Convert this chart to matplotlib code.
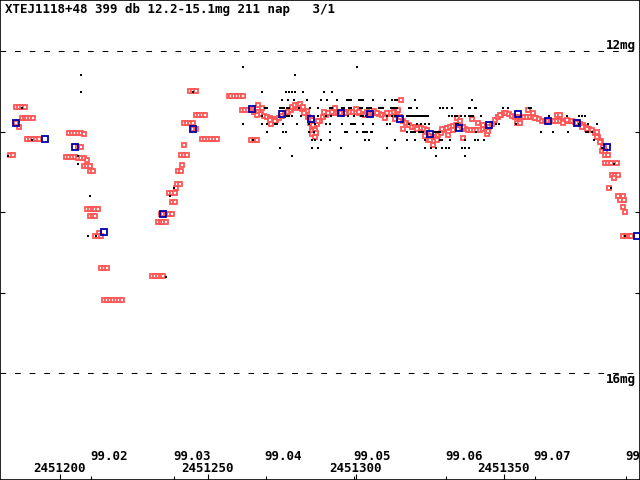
import numpy as np
import matplotlib
matplotlib.use('Agg')
import matplotlib.pyplot as plt
from matplotlib.transforms import blended_transform_factory

title = 'XTEJ1118+48 399 db 12.2-15.1mg 211 nap   3/1'
jd0 = 2451000

# red points: separate runs / scattered measurements (JD - 2451000, mag)
red_early_d = [183, 184, 185, 186, 187, 188, 185.1, 186.1,
               187, 188, 189, 190, 191, 189, 190, 191, 192, 193,
               202, 203, 204, 205, 203, 204, 205, 206, 207, 208.1,
               206, 207, 206, 207, 208, 209, 208, 209, 210, 210, 211,
               209, 210, 211, 212, 213, 210, 211, 212,
               213.2, 212, 213, 214, 214, 215, 216,
               215, 216, 217, 218, 219, 220, 221]
red_early_m = [13.29, 13.29, 12.69, 12.69, 12.69, 12.69, 12.89, 12.94,
               12.83, 12.83, 12.83, 12.83, 12.83, 13.09, 13.09, 13.09, 13.09, 13.09,
               13.31, 13.31, 13.31, 13.31, 13.02, 13.02, 13.02, 13.02, 13.02, 13.03,
               13.19, 13.19, 13.33, 13.33, 13.33, 13.35, 13.42, 13.42, 13.42, 13.49, 13.49,
               13.96, 13.96, 13.96, 13.96, 13.96, 14.05, 14.05, 14.05,
               14.26, 14.29, 14.29, 14.29, 14.69, 14.69, 14.69,
               15.09, 15.09, 15.09, 15.09, 15.09, 15.09, 15.09]

red_mid_d = [231, 232, 233, 234, 235, 233, 234, 235, 236,
             234, 235, 236, 237, 238, 237, 238, 239, 238, 239,
             239.2, 239.5, 240.5, 240, 241, 241.3, 241, 242, 243, 241.9,
             242, 243, 244, 245, 244, 245, 246, 245, 246,
             246, 247, 248, 249, 248, 249, 250, 251, 252, 253,
             257, 258, 259, 260, 261, 262, 261.5, 262.5, 263.5,
             264.6, 265.6, 266.6]
red_mid_m = [14.79, 14.79, 14.79, 14.79, 14.79, 14.12, 14.12, 14.12, 14.12,
             14.02, 14.02, 14.02, 14.02, 14.02, 13.76, 13.76, 13.76, 13.87, 13.87,
             13.70, 13.65, 13.65, 13.49, 13.49, 13.41, 13.29, 13.29, 13.29, 13.17,
             12.89, 12.89, 12.89, 12.89, 12.49, 12.49, 12.49, 12.97, 12.97,
             12.79, 12.79, 12.79, 12.79, 13.09, 13.09, 13.09, 13.09, 13.09, 13.09,
             12.55, 12.55, 12.55, 12.55, 12.55, 12.55, 12.73, 12.73, 12.73,
             13.10, 13.10, 13.10]

# dense daily red curve
band_d = list(range(265, 385))
band_m = [12.73, 12.75, 12.76, 12.78, 12.80, 12.82, 12.83, 12.84, 12.85, 12.83,
          12.80, 12.77, 12.75, 12.73, 12.71, 12.69, 12.70, 12.72, 12.76, 12.82,
          12.86, 12.90, 12.90, 12.86, 12.82, 12.79, 12.77, 12.77, 12.77, 12.77,
          12.77, 12.76, 12.75, 12.75, 12.75, 12.76, 12.77, 12.78, 12.79, 12.79,
          12.78, 12.77, 12.77, 12.78, 12.79, 12.79, 12.78, 12.77, 12.76, 12.76,
          12.82, 12.86, 12.89, 12.92, 12.94, 12.94, 12.94, 12.95, 12.96, 12.98,
          13.05, 13.06, 13.06, 13.04, 13.02, 12.98, 12.95, 12.94, 12.93, 12.92,
          12.92, 12.94, 12.96, 12.98, 12.98, 12.98, 12.98, 12.98, 12.97, 12.95,
          12.94, 12.90, 12.85, 12.82, 12.79, 12.77, 12.77, 12.78, 12.80, 12.81,
          12.82, 12.82, 12.82, 12.82, 12.82, 12.82, 12.83, 12.84, 12.86, 12.87,
          12.87, 12.87, 12.87, 12.87, 12.87, 12.87, 12.87, 12.87, 12.87, 12.88,
          12.89, 12.90, 12.92, 12.94, 12.96, 12.98, 13.02, 13.07, 13.12, 13.20]

red_late_d = [265.7, 266.7, 267.1, 268.2, 271.0, 271.3, 272.7,
              278.4, 279.5, 280.6, 281.2, 282.3, 283.4, 282.6,
              284.5, 285.3, 285.3, 286.2, 285.3, 286.2, 287.4, 285.1, 285.7, 286.6,
              289.4, 290.7, 291.9, 293.0, 296.4, 300.1, 301.2, 303.7, 306.2, 307.1,
              309.9, 310.5, 313.3, 314.4, 315.4, 316.1, 320.6, 323.4, 324.6,
              326.3, 327.4, 325.1, 329.1, 331.3, 334.2, 335.3, 333.0, 336.4, 336.4,
              339.2, 341.5, 343.2, 344.3, 344.8, 348.8, 354.5, 355.6, 358.4, 360.1,
              360.6, 368.0, 369.1, 370.2, 371.4, 376.4, 378.1, 381.5, 381.5, 382.6, 383.5,
              383.3, 384.3, 384.4, 385.4, 384.4, 385.4, 386.4, 388.5,
              386.6, 387.6, 388.6, 387.5, 385.6, 388.8, 390.5, 389.4, 390.8,
              390.5, 391.2, 390.5, 391.5, 392.5, 393.2]
red_late_m = [12.75, 12.79, 12.67, 12.70, 12.85, 12.90, 12.87,
              12.69, 12.67, 12.67, 12.65, 12.69, 12.74, 12.77,
              12.89, 12.94, 12.99, 12.98, 13.03, 13.06, 12.87, 12.85, 12.92, 13.02,
              12.75, 12.77, 12.76, 12.71, 12.77, 12.72, 12.76, 12.75, 12.74, 12.77,
              12.83, 12.77, 12.84, 12.73, 12.60, 12.97, 12.96, 13.05, 13.10,
              13.17, 13.10, 13.10, 12.96, 13.04, 12.83, 12.87, 12.98, 13.08, 12.94,
              12.84, 12.89, 12.92, 13.03, 12.99, 12.79, 12.89, 12.89, 12.73, 12.77,
              12.83, 12.79, 12.79, 12.89, 12.85, 12.94, 12.96, 13.00, 13.06, 13.13, 13.19,
              13.24, 13.24, 13.29, 13.29, 13.39, 13.39, 13.39, 13.39,
              13.54, 13.54, 13.54, 13.57, 13.70, 13.80, 13.80, 13.85, 13.85,
              13.93, 14.00, 14.30, 14.30, 14.30, 14.30]

# black visual estimates, grouped by magnitude (0.1 mag steps)
black = {
    12.2: [261.9, 300.4],
    12.3: [207.1, 279.5],
    12.5: [207.1, 245.0, 268.3, 276.4, 277.5, 278.5, 279.5, 282.2, 289.3, 292.0],
    12.6: [275.1, 277.1, 279.1, 283.5, 288.3, 290.3, 293.8, 297.1, 297.8, 298.4,
           301.2, 301.9, 302.6, 306.0, 310.0, 312.3, 313.4, 314.1, 320.1, 339.3],
    12.7: [187.1, 269.3, 270.0, 274.4, 275.1, 275.8, 276.8, 277.5, 280.8, 284.5,
           287.3, 291.3, 292.0, 295.4, 296.1, 297.6, 298.3, 301.5, 302.1, 303.7,
           304.4, 305.1, 308.0, 308.7, 309.3, 311.8, 312.5, 313.4, 314.1, 317.9,
           318.6, 320.6, 328.4, 329.5, 330.9, 332.5, 338.2, 338.7, 340.3, 340.7,
           349.8, 351.4, 358.6, 359.3],
    12.8: [268.3, 276.8, 277.5, 278.5, 281.5, 284.2, 287.3, 290.0, 291.7, 295.6,
           297.4, 299.4, 301.7, 302.6, 303.5, 310.5, 312.3, 313.2, 313.9, 317.3,
           317.9, 318.6, 319.3, 320.0, 320.6, 321.3, 322.0, 322.6, 323.4, 324.0,
           324.6, 331.7, 332.6, 333.7, 334.4, 335.7, 336.9, 338.2, 338.9, 339.8,
           342.5, 365.4, 371.5, 375.5, 376.4, 377.6],
    12.9: [261.9, 268.3, 270.0, 272.7, 273.4, 275.4, 280.2, 284.2, 286.2, 290.0,
           291.3, 295.4, 298.3, 299.0, 299.7, 302.4, 306.0, 310.7, 311.6, 317.9,
           320.8, 322.2, 323.4, 324.7, 333.8, 334.5, 347.6, 348.5, 354.3, 375.5,
           378.5, 381.6],
    13.0: [270.0, 275.4, 276.4, 284.2, 285.9, 291.3, 296.3, 297.2, 300.3, 302.4,
           303.0, 303.7, 305.1, 305.5, 317.3, 318.6, 319.3, 320.0, 321.3, 322.2,
           322.9, 326.6, 327.3, 328.0, 328.6, 340.6, 362.7, 366.7, 371.7, 377.8,
           378.7, 380.0],
    13.1: [190.5, 265.3, 285.2, 286.2, 288.3, 291.3, 303.3, 304.4, 313.2, 317.3,
           320.2, 323.4, 328.4, 329.3, 332.0, 337.0, 340.4, 341.5, 343.3, 380.5],
    13.2: [274.4, 285.2, 287.3, 295.1, 310.5, 323.4, 325.5, 327.1, 329.3, 330.6,
           331.6, 335.9, 337.0, 338.3, 383.2],
    13.3: [182.4, 206.1, 278.5, 327.1, 337.0],
    13.4: [206.1, 387.4],
    13.7: [238.6, 386.4],
    13.8: [210.1, 237.2],
    14.3: [209.5, 212.2, 391.0],
    14.8: [235.8],
}

# blue 10-day means
mean_d = [185, 195, 205, 215, 235, 245, 265, 275, 285, 295, 305, 315, 325, 335,
          345, 355, 365, 375, 385, 395]
mean_m = [12.89, 13.09, 13.19, 14.24, 14.02, 12.97, 12.72, 12.78, 12.84, 12.77,
          12.78, 12.84, 13.03, 12.95, 12.92, 12.78, 12.87, 12.89, 13.19, 14.29]

jd_ticks = [2451200, 2451250, 2451300, 2451350]
month_jd = [2451210.5, 2451238.5, 2451269.5, 2451299.5, 2451330.5, 2451360.5, 2451391.5]
month_labels = ['99.02', '99.03', '99.04', '99.05', '99.06', '99.07', '99.08']

red = '#ff5555'
blue = '#0000aa'
font = dict(family='DejaVu Sans Mono', weight='bold', size=9.0)

fig = plt.figure(figsize=(6.4, 4.8), dpi=100)
ax = fig.add_axes([0, 0, 1, 1])
ax.set_xlim(2451179.71, 2451396.15)
ax.set_ylim(17.3255, 11.3627)

for d, m in [(red_early_d, red_early_m), (red_mid_d, red_mid_m),
             (band_d, band_m), (red_late_d, red_late_m)]:
    ax.plot(jd0 + np.array(d), m, 's', ms=2.5, mfc='white', mec=red, mew=1.3,
            zorder=2)

bx = np.concatenate([np.array(v) for v in black.values()])
by = np.concatenate([[k] * len(v) for k, v in black.items()])
ax.plot(jd0 + bx, by, 's', ms=1.8, color='black', mew=0, zorder=3)

ax.plot(jd0 + np.array(mean_d), mean_m, 's', ms=4.2, mfc='none', mec=blue,
        mew=1.3, zorder=4)

for lev in (12, 16):
    ax.axhline(lev, color='black', lw=0.75, ls=(0, (5.5, 8.5)), zorder=1)

ax.set_yticks([13, 14, 15])
ax.tick_params(axis='y', direction='in', left=True, right=True, length=3.6,
               width=0.8, labelleft=False, labelright=False)
ax.set_xticks(jd_ticks)
ax.set_xticks(month_jd, minor=True)
ax.tick_params(axis='x', which='major', direction='in', length=4.5, width=0.8,
               labelbottom=False)
ax.tick_params(axis='x', which='minor', direction='in', length=3, width=0.8)
for s in ax.spines.values():
    s.set_linewidth(1.2)

tr = blended_transform_factory(ax.transData, ax.transAxes)
for x, lab in zip(month_jd, month_labels):
    ax.text(x - 0.3, (480 - 459.5) / 480, lab, transform=tr, ha='left',
            va='baseline', clip_on=True, **font)
for x in jd_ticks:
    ax.text(x, (480 - 471.5) / 480, str(x), transform=tr, ha='center',
            va='baseline', **font)

fig.text(5 / 640, 1 - 12.5 / 480, title, ha='left', va='baseline', **font)
ax.text(0.994, 1 - 49 / 480, '12mg', transform=ax.transAxes, ha='right',
        va='baseline', **font)
ax.text(0.994, 1 - 382.5 / 480, '16mg', transform=ax.transAxes, ha='right',
        va='baseline', **font)

fig.savefig('out.png', dpi=100)
